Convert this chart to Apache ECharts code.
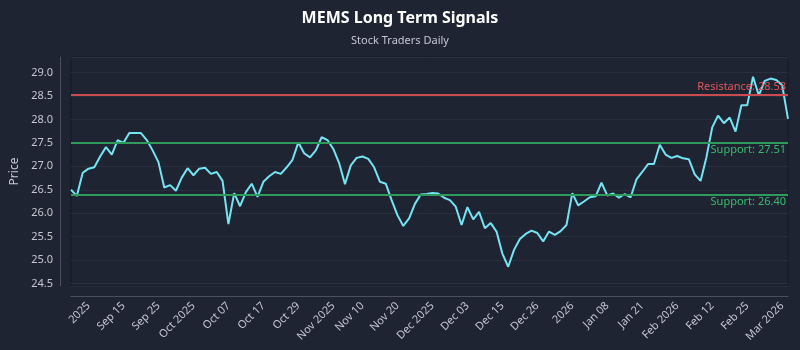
<!DOCTYPE html>
<html>
<head>
<meta charset="utf-8">
<script src="https://cdn.jsdelivr.net/npm/echarts@6/dist/echarts.min.js"></script>
<style>
  html, body { margin: 0; background: #1f2433; }
  #chart { width: 800px; height: 350px; }
</style>
</head>
<body>
<div id="chart"></div>
<script>
// closing prices, one per session
const prices = [
  26.50, 26.37, 26.86, 26.95, 26.98, 27.21, 27.41, 27.25, 27.56, 27.50,
  27.71, 27.71, 27.71, 27.56, 27.34, 27.09, 26.55, 26.60, 26.48, 26.76,
  26.96, 26.81, 26.95, 26.97, 26.84, 26.88, 26.69, 25.77, 26.43, 26.15,
  26.45, 26.63, 26.35, 26.67, 26.79, 26.88, 26.84, 26.98, 27.14, 27.51,
  27.28, 27.19, 27.34, 27.62, 27.56, 27.37, 27.07, 26.62, 27.02, 27.18,
  27.21, 27.16, 26.98, 26.67, 26.63, 26.28, 25.96, 25.73, 25.89, 26.20,
  26.40, 26.41, 26.43, 26.42, 26.33, 26.28, 26.14, 25.75, 26.13, 25.87,
  26.03, 25.68, 25.79, 25.61, 25.14, 24.86, 25.22, 25.45, 25.56, 25.63,
  25.58, 25.40, 25.61, 25.54, 25.62, 25.75, 26.43, 26.17, 26.25, 26.34,
  26.36, 26.65, 26.38, 26.42, 26.33, 26.41, 26.34, 26.72, 26.88, 27.05,
  27.05, 27.46, 27.25, 27.18, 27.22, 27.17, 27.15, 26.83, 26.69, 27.19,
  27.83, 28.08, 27.92, 28.04, 27.74, 28.30, 28.30, 28.91, 28.51, 28.82,
  28.87, 28.84, 28.73, 28.01
];

// x tick labels and the session they sit on
const tickLabels = [
  "2025", "Sep 15", "Sep 25", "Oct 2025", "Oct 07", "Oct 17", "Oct 29",
  "Nov 2025", "Nov 10", "Nov 20", "Dec 2025", "Dec 03", "Dec 15", "Dec 26",
  "2026", "Jan 08", "Jan 21", "Feb 2026", "Feb 12", "Feb 25", "Mar 2026"
];
const tickIndex = [3, 9, 15, 21, 27, 33, 39, 45, 50, 56, 62, 68, 74, 80, 86, 92, 98, 104, 110, 116, 122];

const resistance = 28.53;
const supports = [27.51, 26.40];

const labelColor = "#c3c7d1";
const axisColor = "#4a5061";

const chart = echarts.init(document.getElementById("chart"));

const option = {
  backgroundColor: "#1f2433",
  animation: false,
  title: {
    text: "MEMS Long Term Signals",
    subtext: "Stock Traders Daily",
    left: "center",
    top: 5,
    itemGap: 9,
    textStyle: { color: "#ffffff", fontSize: 16, fontWeight: "bold", fontFamily: "Noto Sans" },
    subtextStyle: { color: labelColor, fontSize: 11, fontFamily: "Noto Sans" },
  },
  grid: {
    left: 71,
    right: 12,
    top: 57,
    bottom: 64,
    show: true,
    borderColor: "#141824",
    borderWidth: 1,
    backgroundColor: "transparent",
  },
  xAxis: {
    type: "category",
    boundaryGap: false,
    data: prices.map((_, i) => String(i)),
    offset: 10,
    axisLine: { lineStyle: { color: axisColor } },
    axisTick: { show: false },
    splitLine: { show: false },
    axisLabel: {
      rotate: 45,
      color: labelColor,
      fontSize: 11,
      fontFamily: "Noto Sans",
      margin: 8,
      interval: (index) => tickIndex.includes(index),
      formatter: (value, index) => {
        const k = tickIndex.indexOf(index);
        return k >= 0 ? tickLabels[k] : "";
      },
    },
  },
  yAxis: {
    type: "value",
    min: 24.45,
    max: 29.33,
    splitNumber: 10,
    offset: 11,
    name: "Price",
    nameLocation: "middle",
    nameGap: 38,
    nameTextStyle: { color: labelColor, fontSize: 12, fontFamily: "Noto Sans" },
    axisLine: { show: true, lineStyle: { color: axisColor } },
    axisTick: { show: false },
    splitLine: { lineStyle: { color: "#292f3e" } },
    axisLabel: {
      color: labelColor,
      fontSize: 11,
      fontFamily: "Noto Sans",
      margin: 7,
      showMinLabel: false,
      showMaxLabel: false,
      formatter: (v) => v.toFixed(1),
    },
  },
  series: [
    {
      // levels drawn first so the price line passes over them
      type: "line",
      data: [],
      silent: true,
      markLine: {
        silent: true,
        symbol: "none",
        animation: false,
        data: [
          {
            yAxis: resistance,
            lineStyle: { color: "#c94a4f", width: 2, type: "solid" },
            label: {
              position: "insideEndTop",
              formatter: "Resistance: " + resistance.toFixed(2),
              color: "#e0575b",
              fontSize: 11,
              fontFamily: "Noto Sans",
              distance: 2,
            },
          },
          ...supports.map((s) => ({
            yAxis: s,
            lineStyle: { color: "#2e9a5c", width: 2, type: "solid" },
            label: {
              position: "insideEndBottom",
              formatter: "Support: " + s.toFixed(2),
              color: "#3cba6a",
              fontSize: 11,
              fontFamily: "Noto Sans",
              distance: 2,
            },
          })),
        ],
      },
    },
    {
      name: "MEMS",
      type: "line",
      data: prices,
      symbol: "none",
      lineStyle: { color: "#74e4f2", width: 2 },
      itemStyle: { color: "#74e4f2" },
    },
  ],
};

chart.setOption(option);
</script>
</body>
</html>
